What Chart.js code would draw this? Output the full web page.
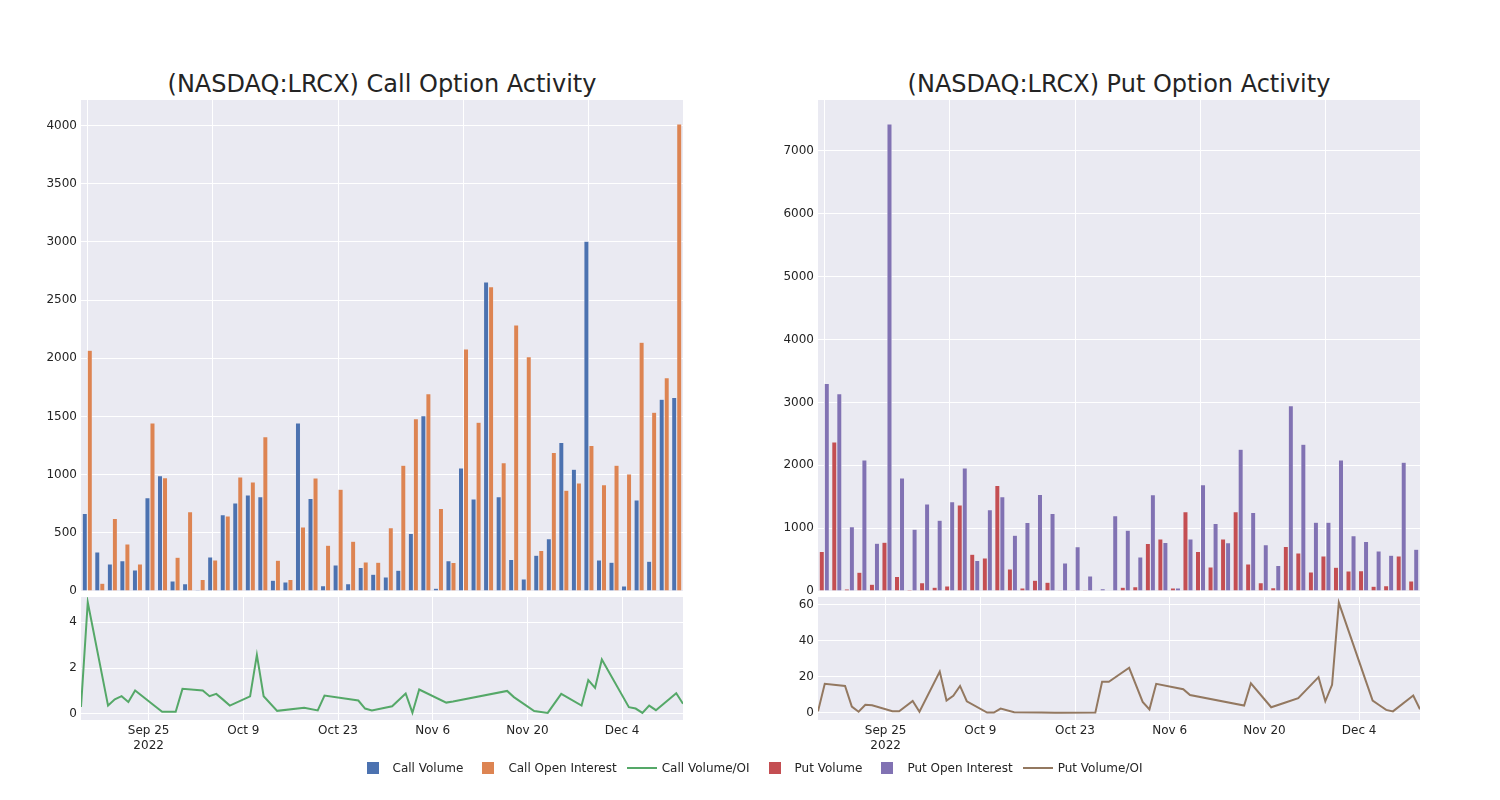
<!DOCTYPE html>
<html>
<head>
<meta charset="utf-8">
<script src="https://cdn.jsdelivr.net/npm/chart.js@4.4.0/dist/chart.umd.min.js"></script>
<style>
  body { margin: 0; background: #fff; width: 1500px; height: 800px; position: relative; overflow: hidden; font-family: 'DejaVu Sans', sans-serif; }
  canvas { position: absolute; }
  .title { position: absolute; top: 68px; width: 602px; text-align: center; font-size: 24px; line-height: 32px; color: rgb(36,36,36); }
  #legend { position: absolute; top: 759px; left: 0; width: 1500px; display: flex; justify-content: center; font-size: 12px; color: rgb(36,36,36); }
  .item { display: flex; align-items: center; margin-right: 5px; height: 18px; }
  .sym { width: 40px; height: 18px; position: relative; }
  .sq { position: absolute; left: 14px; top: 3px; width: 12px; height: 12px; }
  .ln { position: absolute; left: 5px; top: 8px; width: 30px; height: 2px; }
</style>
</head>
<body>
<div class="title" style="left:81px">(NASDAQ:LRCX) Call Option Activity</div>
<div class="title" style="left:818px">(NASDAQ:LRCX) Put Option Activity</div>
<canvas id="barCall" width="683" height="500" style="left:0;top:100px"></canvas>
<canvas id="lineCall" width="683" height="170" style="left:0;top:590px"></canvas>
<canvas id="barPut" width="683" height="500" style="left:737px;top:100px"></canvas>
<canvas id="linePut" width="683" height="170" style="left:737px;top:590px"></canvas>
<div id="legend"></div>
<script>
const dates = [
  '2022-09-15', '2022-09-16', '2022-09-19', '2022-09-20', '2022-09-21', '2022-09-22', '2022-09-23', '2022-09-26',
  '2022-09-27', '2022-09-29', '2022-09-30', '2022-10-03', '2022-10-04', '2022-10-05', '2022-10-06', '2022-10-07',
  '2022-10-10', '2022-10-11', '2022-10-12', '2022-10-14', '2022-10-18', '2022-10-20', '2022-10-21', '2022-10-26',
  '2022-10-27', '2022-10-28', '2022-10-31', '2022-11-02', '2022-11-03', '2022-11-04', '2022-11-08', '2022-11-09',
  '2022-11-17', '2022-11-18', '2022-11-21', '2022-11-23', '2022-11-25', '2022-11-28', '2022-11-29', '2022-11-30',
  '2022-12-01', '2022-12-05', '2022-12-06', '2022-12-07', '2022-12-08', '2022-12-09', '2022-12-12', '2022-12-13'
]

const callVolume = [667, 336, 233, 261, 181, 802, 991, 86, 63, 9, 293, 655, 756, 825, 810, 92, 78, 1443, 796, 46, 224, 63, 201, 144,
  121, 178, 494, 1506, 23, 261, 1057, 790, 2655, 810, 270, 103, 307, 448, 1276, 1046, 3006, 267, 247, 43, 782, 256, 1649, 1664]
const callOpenInterest = [2069, 66, 624, 405, 233, 1443, 974, 290, 681, 98, 267, 644, 980, 937, 1325, 264, 98, 549, 971, 394, 874, 428, 250, 247,
  543, 1080, 1480, 1695, 710, 244, 2080, 1451, 2615, 1103, 2287, 2014, 348, 1190, 865, 928, 1250, 914, 1080, 1006, 2138, 1537, 1833, 4014]
const callVolumeOI = [0.3, 4.87, 0.36, 0.63, 0.77, 0.52, 1.02, 0.32, 0.09, 0.09, 1.09, 1.02, 0.77, 0.87, 0.62, 0.36, 0.76, 2.57, 0.77, 0.13, 0.26, 0.15, 0.8, 0.58,
  0.23, 0.15, 0.33, 0.89, 0.05, 1.06, 0.49, 0.54, 1.0, 0.73, 0.12, 0.04, 0.87, 0.36, 1.47, 1.13, 2.37, 0.29, 0.23, 0.04, 0.36, 0.16, 0.9, 0.44]

const putVolume = [627, 2371, 32, 298, 106, 776, 229, 21, 133, 58, 80, 1366, 585, 526, 1680, 351, 48, 170, 138, 3, 2, 16, 11, 11,
  58, 69, 755, 829, 48, 1260, 627, 383, 829, 1260, 431, 133, 53, 707, 606, 303, 558, 377, 319, 324, 74, 85, 558, 160]
const putOpenInterest = [3301, 3137, 1021, 2084, 760, 7427, 1797, 984, 1382, 1127, 1419, 1956, 484, 1292, 1499, 888, 1090, 1536, 1233, 447, 702, 239, 37, 1196,
  968, 542, 1531, 771, 48, 829, 1691, 1074, 766, 2254, 1249, 734, 404, 2945, 2334, 1095, 1095, 2084, 877, 787, 638, 569, 2047, 665]
const putVolumeOI = [0.9, 16.2, 15.0, 3.5, 0.7, 4.5, 4.3, 1.0, 0.9, 6.7, 0.7, 23.0, 6.9, 9.5, 15.0, 6.5, 0.2, 0.2, 2.4, 0.4, 0.2, 0.1, 0.1, 0.2,
  17.3, 17.3, 25.1, 6.1, 2.0, 16.2, 13.2, 10.0, 4.1, 16.5, 3.2, 5.7, 8.2, 19.9, 6.5, 15.6, 61.3, 17.7, 6.9, 4.3, 1.7, 0.9, 9.7, 2.0]

const tickDates = ['2022-09-25', '2022-10-09', '2022-10-23', '2022-11-06', '2022-11-20', '2022-12-04']
const tickLabels = [['Sep 25', '2022'], 'Oct 9', 'Oct 23', 'Nov 6', 'Nov 20', 'Dec 4']
const callBarTicks = [0, 500, 1000, 1500, 2000, 2500, 3000, 3500, 4000]
const putBarTicks = [0, 1000, 2000, 3000, 4000, 5000, 6000, 7000]
const callLineTicks = [0, 2, 4]
const putLineTicks = [0, 20, 40, 60]

const bg = 'rgb(234,234,242)'
const colors = {
  callVol: 'rgb(76,114,176)', callOi: 'rgb(221,132,82)', callRatio: 'rgb(85,168,104)',
  putVol: 'rgb(196,78,82)', putOi: 'rgb(129,114,179)', putRatio: 'rgb(147,120,96)'
}

Chart.defaults.font.family = "'DejaVu Sans', sans-serif"
Chart.defaults.font.size = 12
Chart.defaults.color = 'rgb(36,36,36)'
Chart.defaults.animation = false

const toDay = s => Date.parse(s + 'T00:00:00Z') / 86400000

// fill the plot area like plotly's plot_bgcolor
const plotBg = {
  id: 'plotBg',
  beforeDraw(chart) {
    const a = chart.chartArea
    chart.ctx.save()
    chart.ctx.fillStyle = bg
    chart.ctx.fillRect(a.left, a.top, a.right - a.left, a.bottom - a.top)
    chart.ctx.restore()
  }
}

const yAxis = (min, max, tickValues) => ({
  min: min, max: max,
  afterBuildTicks: s => { s.ticks = tickValues.map(v => ({ value: v })) },
  ticks: { padding: 4, callback: v => String(v) },
  grid: { color: '#fff', drawTicks: false },
  border: { display: false },
  afterFit: s => { s.width = 81; s.paddingTop = 0; s.paddingBottom = 0 }
})

const barChart = (id, vol, oi, colVol, colOi, labVol, labOi, max, tickValues) => new Chart(document.getElementById(id), {
  type: 'bar',
  data: {
    labels: dates,
    datasets: [
      { label: labVol, data: vol, backgroundColor: colVol, borderColor: bg, borderWidth: 0.5, categoryPercentage: 0.8, barPercentage: 1 },
      { label: labOi, data: oi, backgroundColor: colOi, borderColor: bg, borderWidth: 0.5, categoryPercentage: 0.8, barPercentage: 1 }
    ]
  },
  options: {
    responsive: false,
    layout: { padding: 0 },
    plugins: { legend: { display: false }, tooltip: { enabled: false } },
    scales: {
      x: {
        grid: { offset: false, drawTicks: false, color: c => c.index % 10 === 0 ? '#fff' : 'rgba(0,0,0,0)' },
        border: { display: false },
        ticks: { display: false },
        afterFit: s => { s.height = 9; s.paddingLeft = 0; s.paddingRight = 0 }
      },
      y: yAxis(0, max, tickValues)
    }
  },
  plugins: [plotBg]
})

const lineChart = (id, values, color, label, min, max, tickValues) => new Chart(document.getElementById(id), {
  type: 'line',
  data: {
    datasets: [{
      label: label,
      data: dates.map((d, i) => ({ x: toDay(d), y: values[i] })),
      borderColor: color, borderWidth: 2, pointRadius: 0, tension: 0, fill: false
    }]
  },
  options: {
    responsive: false,
    layout: { padding: { top: 7 } },
    plugins: { legend: { display: false }, tooltip: { enabled: false } },
    scales: {
      x: {
        type: 'linear',
        min: toDay(dates[0]),
        max: toDay(dates[dates.length - 1]),
        afterBuildTicks: s => { s.ticks = tickDates.map(d => ({ value: toDay(d) })) },
        ticks: { callback: (v, i) => tickLabels[i], maxRotation: 0, autoSkip: false, padding: 4 },
        grid: { color: '#fff', drawTicks: false },
        border: { display: false },
        afterFit: s => { s.height = 40; s.paddingLeft = 0; s.paddingRight = 0 }
      },
      y: yAxis(min, max, tickValues)
    }
  },
  plugins: [plotBg]
})

barChart('barCall', callVolume, callOpenInterest, colors.callVol, colors.callOi, 'Call Volume', 'Call Open Interest', 4220, callBarTicks)
lineChart('lineCall', callVolumeOI, colors.callRatio, 'Call Volume/OI', -0.27, 5.1, callLineTicks)
barChart('barPut', putVolume, putOpenInterest, colors.putVol, colors.putOi, 'Put Volume', 'Put Open Interest', 7810, putBarTicks)
lineChart('linePut', putVolumeOI, colors.putRatio, 'Put Volume/OI', -3.9, 64.4, putLineTicks)

// legend like plotly's horizontal one
const legendItems = [
  ['Call Volume', colors.callVol, 'sq'], ['Call Open Interest', colors.callOi, 'sq'], ['Call Volume/OI', colors.callRatio, 'ln'],
  ['Put Volume', colors.putVol, 'sq'], ['Put Open Interest', colors.putOi, 'sq'], ['Put Volume/OI', colors.putRatio, 'ln']
]
const legend = document.getElementById('legend')
legendItems.forEach(([text, color, kind]) => {
  const item = document.createElement('div')
  item.className = 'item'
  item.innerHTML = `<div class="sym"><div class="${kind}" style="background:${color}"></div></div><span>${text}</span>`
  legend.appendChild(item)
})
</script>
</body>
</html>
